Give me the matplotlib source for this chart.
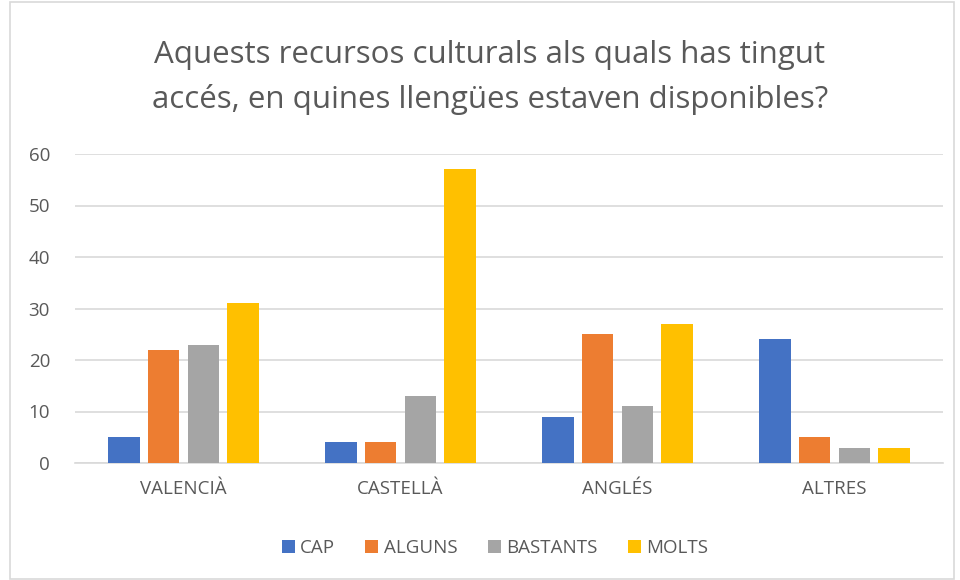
import matplotlib
matplotlib.use("Agg")
import matplotlib.pyplot as plt
from matplotlib.patches import Rectangle
import numpy as np

categories = ["VALENCIÀ", "CASTELLÀ", "ANGLÉS", "ALTRES"]
series_names = ["CAP", "ALGUNS", "BASTANTS", "MOLTS"]
cap = [5, 4, 9, 24]
alguns = [22, 4, 25, 5]
bastants = [23, 13, 11, 3]
molts = [31, 57, 27, 3]
colors = ["#4472C4", "#ED7D31", "#A5A5A5", "#FFC000"]
yticks = [0, 10, 20, 30, 40, 50, 60]

plt.rcParams['font.family'] = ['Open Sans', 'DejaVu Sans']

fig = plt.figure(figsize=(9.6, 5.8), dpi=100)
ax = fig.add_axes([75/960, 1-463/580, 868/960, (463-154)/580])

x = np.arange(len(categories))
w = 0.147
step = 0.184
for i, (vals, name, c) in enumerate(zip([cap, alguns, bastants, molts], series_names, colors)):
    ax.bar(x + (i - 1.5) * step, vals, width=w, color=c, label=name, zorder=3)

ax.set_xlim(-0.5, 3.5)
ax.set_ylim(0, 60)
ax.set_yticks(yticks)
ax.set_xticks(x)
ax.set_xticklabels(categories)
ax.grid(axis='y', color='#D9D9D9', linewidth=1.2, zorder=0)
for s in ['top', 'right', 'left']:
    ax.spines[s].set_visible(False)
ax.spines['bottom'].set_color('#D9D9D9')
ax.spines['bottom'].set_linewidth(1.2)
ax.tick_params(axis='both', length=0, colors='#595959', labelsize=13.5)
ax.tick_params(axis='y', pad=18)
ax.tick_params(axis='x', pad=12)

fig.suptitle("Aquests recursos culturals als quals has tingut\naccés, en quines llengües estaven disponibles?",
             x=490/960, y=1-40/580, va='top', fontsize=22.5, color='#595959', linespacing=1.6)

leg = ax.legend(loc='center', bbox_to_anchor=(495/960, 1-548/580), bbox_transform=fig.transFigure,
                ncol=4, frameon=False, fontsize=13.5, handlelength=0.7, handleheight=0.7,
                handletextpad=0.3, columnspacing=1.6, labelcolor='#595959')

fig.patches.append(Rectangle((10/960, 0.002), 944/960, 0.994, transform=fig.transFigure,
                             fill=False, edgecolor='#D9D9D9', linewidth=1.2))

fig.savefig("out.png", dpi=100, facecolor='white')
